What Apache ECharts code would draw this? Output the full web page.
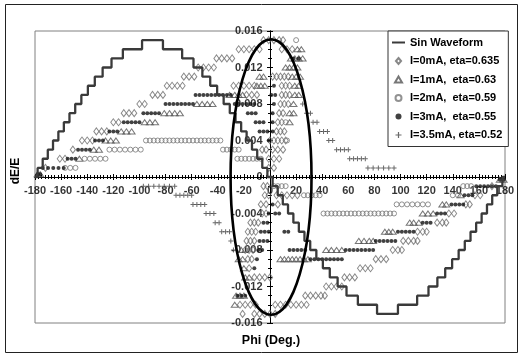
<!DOCTYPE html>
<html>
<head>
<meta charset="utf-8">
<script src="https://cdn.jsdelivr.net/npm/echarts/dist/echarts.min.js"></script>
<style>
  html, body { margin: 0; padding: 0; background: #fff; }
  #chart { width: 520px; height: 356px; }
</style>
</head>
<body>
<div id="chart"></div>
<script>
const FONT = '"Liberation Sans", Arial, sans-serif';

// tick labels drawn along the zero lines
const xTickLabels = [-180, -160, -140, -120, -100, -80, -60, -40, -20, 0, 20, 40, 60, 80, 100, 120, 140, 160, 180];
const yTickLabels = [0.016, 0.012, 0.008, 0.004, 0, -0.004, -0.008, -0.012, -0.016];

// staircase "sin" waveform: phase where each new level starts, level in units of 0.001
const sinPhi = [-180, -178, -174.1, -170.2, -166.2, -162.1, -157.9, -153.6, -149.2, -144.5, -139.5, -134.2, -128.2, -121.4, -112.7, -98,
  -82, -67.3, -58.6, -51.8, -45.8, -40.5, -35.5, -30.8, -26.4, -22.1, -17.9, -13.8, -9.8, -5.9, -2,
  2, 5.9, 9.8, 13.8, 17.9, 22.1, 26.4, 30.8, 35.5, 40.5, 45.8, 51.8, 58.6, 67.3, 82,
  98, 112.7, 121.4, 128.2, 134.2, 139.5, 144.5, 149.2, 153.6, 157.9, 162.1, 166.2, 170.2, 174.1, 178, 180];
const sinLevel = [0, 1, 2, 3, 4, 5, 6, 7, 8, 9, 10, 11, 12, 13, 14, 15,
  14, 13, 12, 11, 10, 9, 8, 7, 6, 5, 4, 3, 2, 1, 0,
  -1, -2, -3, -4, -5, -6, -7, -8, -9, -10, -11, -12, -13, -14, -15,
  -14, -13, -12, -11, -10, -9, -8, -7, -6, -5, -4, -3, -2, -1, 0, 0];

// the hand drawn ellipse: centre phi, centre dE/E, half width (deg), half height
const ellipse = [0.8, 0, 31, 0.0151];

// each row: [dE/E, phi, phi, ...]
const diamondRows = [
  [0.001, -172], [0.002, -161, -157], [0.003, -151], [0.004, -144, -140, -136], [0.005, -133, -129, -125],
  [0.006, -120, -116], [0.007, -112, -108, -104], [0.008, -100, -96], [0.009, -90, -86, -82],
  [0.010, -79, -75, -71, -67], [0.011, -66, -62, -58], [0.012, -55, -51, -47, -43], [0.013, -41, -37, -33, -29],
  [0.014, -24, -20, -16, -12, -8, 9, 13, 17], [0.015, -5, -1, 3, 7, 10],
  [0.011, 2, 5, 8, 11, 14], [0.010, -28, -24, -20, -16, -12, 9, 12, 15], [0.009, -18, -14, -10, 9, 12, 15],
  [0.008, 8, 11, 14], [0.007, 7, 10], [0.006, 6, 9], [0.005, 5, 8, 11], [0.004, 0, 3, 6, 9, 12],
  [0.003, -6, -3, 2, 6, 10], [0.002, -1, 3, 7], [0.001, -1, 3],
  [-0.001, 170, -5, -2], [-0.002, 157, 161, -4, -1, 5, 9, 13, 17, 21], [-0.003, 150, 153, -7, -3, 6],
  [-0.004, 137, 141, -6, -3], [-0.005, 128, 132, 135, -15, -12, -9], [-0.006, 113, 117, 120, -17, -14, -11],
  [-0.007, 102, 106, 110, 113, -18, -15, -12], [-0.008, 94, 98, 101, -19, -16, -13], [-0.009, 81, 85, 89, -17, -14],
  [-0.010, 69, 73, 77, -16], [-0.011, 57, 61, 65, -12, -8, -4, 0], [-0.012, 43, 47, 51, 55],
  [-0.013, 27, 31, 35, 39, 42], [-0.014, 4, 8, 12, 16, 20, 24, 28, -23, -19, -15, -11], [-0.015, -8, -4, 0, 4, -21, -12]
];
const triangleRows = [
  [0.0003, -178, -176], [0.002, -146], [0.003, -135, -131], [0.004, -126, -122, -118], [0.005, -114, -110, -106],
  [0.006, -96, -92, -88, 15], [0.007, -81, -77, -73, -69, 15, 18], [0.008, -56, -52, -48, -44, 18],
  [0.009, -31, -27, -24, -21, 19, 22], [0.010, -10, -7, -4, 19, 22], [0.011, -8, -5, 17, 20, 23],
  [0.012, 12, 15, 18, 21], [0.013, 16, 19, 22, 25], [0.014, 21, 24],
  [-0.0003, 176, 179], [-0.002, 146], [-0.003, 132, 135], [-0.004, 117, 121, 125], [-0.005, 107, 110, 114],
  [-0.006, 88, 91, 94], [-0.007, 68, 72, 76, 79], [-0.008, 43, 47, 51, 55, -22],
  [-0.009, 8, 11, 14, 17, 20, 23, 26, 29, -24, -21], [-0.010, -20], [-0.011, -19, -16],
  [-0.013, -26, -23, -20], [-0.014, -27]
];
const circleRows = [
  [0.001, -157, -153, -149], [0.002, -142, -138, -134, -130, -126], [0.003, -123, -119, -115, -111, -107, -103, -99],
  [0.004, -95, -92, -89, -86, -83, -80, -77, -74, -71, -68, -65, -62, -59, -56, -53, -50, -47, -44, -41, -38, 13],
  [0.003, -36, -33, -30, -27, -24], [0.002, -25, -22, -19, -16, -13, -10, -7], [0.006, 12], [0.015, 20],
  [-0.001, 3, 6, 9, 12, 148, 151, 154], [-0.002, 26, 29, 32, 35, 38, 140, 144],
  [-0.004, 41, 44, 47, 50, 53, 56, 59, 62, 65, 68, 71, 74, 77, 80, 83, 86, 89, 92, 95],
  [-0.003, 97, 101, 105, 109, 113, 117, 121]
];
const dotRows = [
  [0.0003, -178, -176], [0.001, -174, -170, -166, -162, -158], [0.002, -155, -152, -149], [0.003, -147, -144, -141, -138],
  [0.004, -134, -131, -128, -1], [0.005, -123, -120, -117, -8, -5, -2, 2], [0.006, -112, -109, -106, -103, -100, -11, -8, -5, 2],
  [0.007, -97, -94, -91, -88, -85, -17, -14, -11, 2], [0.008, -80, -77, -74, -71, -68, -65, -62, -59, -27, -24, -21, -18, -15, -12, 3],
  [0.009, -57, -54, -51, -48, -45, -42, -39, -36, -33, -30, 1, 4], [0.010, 3], [0.013, 18, 22],
  [-0.0003, 176, 179], [-0.001, 158, 161, 164, 167, 170, 173], [-0.002, 149, 152, 155], [-0.003, 139, 142, 145, 148, 2],
  [-0.004, 128, 131, 134, 4, 7, -1], [-0.005, 117, 120, 123, -5, -2], [-0.006, 98, 101, 104, 107, 110, 11, 14, -7, -4, -1],
  [-0.007, 81, 84, 87, 90, 93, 96, -8, -5, -2], [-0.008, 58, 61, 64, 67, 70, 73, 76, 79, 15, 18, 21, 24, 27, -9, -6],
  [-0.009, 31, 34, 37, 40, 43, 46, 49, 52, 55, -10], [-0.010, -12], [-0.013, -25, -22, -19]
];
const plusRows = [
  [0.008, 25], [0.007, 28, 31], [0.006, 33, 36], [0.005, 38, 41, 44], [0.004, 45, 48], [0.003, 51, 54, 57, 60],
  [0.002, 61, 64, 67, 70, 73], [0.001, 75, 79, 83, 87, 91, 95],
  [-0.001, -97, -93, -89, -85, -81, -77, -73], [-0.002, -72, -69, -66, -63, -60], [-0.003, -59, -56, -53, -50],
  [-0.004, -49, -46, -43], [-0.005, -42, -39], [-0.006, -37, -34, -31], [-0.007, -30], [-0.008, -28]
];

const seriesNames = ['Sin Waveform', 'I=0mA, eta=0.635', 'I=1mA,  eta=0.63', 'I=2mA,  eta=0.59', 'I=3mA,  eta=0.55', 'I=3.5mA, eta=0.52'];

function toPoints(rows) {
  const pts = [];
  rows.forEach(r => {
    for (let i = 1; i < r.length; i++) pts.push([r[i], r[0]]);
  });
  return pts;
}

const chart = echarts.init(document.getElementById('chart'), null, { renderer: 'canvas' });

const labelFont = { fontFamily: FONT, fontSize: 11, fontWeight: 'bold', color: '#000' };
const lineBlack = { color: '#000', width: 1 };
const clear = 'rgba(255,255,255,0)';

function xAx(pos) {
  return {
    type: 'value', min: -180, max: 180, interval: 20, position: pos,
    axisLine: { onZero: true, lineStyle: lineBlack },
    axisTick: { show: true, length: 3, lineStyle: lineBlack },
    minorTick: { show: true, splitNumber: 8, length: 2, lineStyle: lineBlack },
    splitLine: { show: false }, minorSplitLine: { show: false },
    axisLabel: { show: false }
  };
}
function yAx(pos) {
  return {
    type: 'value', min: -0.016, max: 0.016, interval: 0.004, position: pos,
    axisLine: { onZero: true, lineStyle: lineBlack },
    axisTick: { show: true, length: 3, lineStyle: lineBlack },
    minorTick: { show: true, splitNumber: 4, length: 2, lineStyle: lineBlack },
    splitLine: { show: false }, minorSplitLine: { show: false },
    axisLabel: { show: false }
  };
}

chart.setOption({
  animation: false,
  backgroundColor: '#fff',
  grid: { left: 35, top: 31, width: 470, height: 292, show: true, borderColor: '#808080', borderWidth: 1,
    backgroundColor: 'rgba(0,0,0,0)', containLabel: false, outerBoundsMode: 'none' },
  xAxis: [xAx('bottom'), xAx('top')],
  yAxis: [yAx('left'), yAx('right')],
  legend: {
    data: [{ name: seriesNames[0], itemStyle: { opacity: 0 } }].concat(seriesNames.slice(1)),
    orient: 'vertical', left: 388, top: 31,
    backgroundColor: '#fff', borderColor: '#333', borderWidth: 1, borderRadius: 0,
    padding: [6, 6, 6, 3], itemWidth: 13, itemHeight: 6, itemGap: 7.5,
    textStyle: { fontFamily: FONT, fontSize: 11, fontWeight: 'bold', color: '#000' },
    selectedMode: false
  },
  graphic: [
    { type: 'rect', shape: { x: 5.5, y: 4.5, width: 512, height: 348 }, style: { fill: 'none', stroke: '#222', lineWidth: 1 }, silent: true },
    { type: 'text', x: 271, y: 341, style: { text: 'Phi (Deg.)', textAlign: 'center', textVerticalAlign: 'middle', align: 'center', verticalAlign: 'middle',
      font: 'bold 12.5px ' + FONT, fill: '#000' } },
    { type: 'text', x: 16, y: 171, rotation: Math.PI / 2, style: { text: 'dE/E', textAlign: 'center', textVerticalAlign: 'middle', align: 'center', verticalAlign: 'middle',
      font: 'bold 12px ' + FONT, fill: '#000' } }
  ],
  series: [
    // tick labels sit on the zero lines, like the original
    { type: 'scatter', z: 1, silent: true, symbolSize: 1, itemStyle: { color: clear },
      data: xTickLabels.map(v => [v, 0]),
      label: Object.assign({ show: true, position: 'bottom', distance: 8, formatter: p => String(p.value[0]) }, labelFont) },
    { type: 'scatter', z: 1, silent: true, symbolSize: 1, itemStyle: { color: clear },
      data: yTickLabels.map(v => [0, v]),
      label: Object.assign({ show: true, position: 'left', distance: 7, formatter: p => (p.value[1] === 0 ? '0' : p.value[1].toFixed(3)) }, labelFont) },

    { name: seriesNames[1], type: 'scatter', symbol: 'path://M3,0L6,3.5L3,7L0,3.5Z', symbolSize: [6, 7], symbolKeepAspect: true, silent: true,
      itemStyle: { color: clear, borderColor: '#6a6a6a', borderWidth: 1 }, data: toPoints(diamondRows) },
    { name: seriesNames[2], type: 'scatter', symbol: 'path://M3.5,0L7,6L0,6Z', symbolSize: [7, 6], symbolKeepAspect: true, silent: true,
      itemStyle: { color: clear, borderColor: '#555', borderWidth: 1 }, data: toPoints(triangleRows) },
    { name: seriesNames[3], type: 'scatter', symbol: 'circle', symbolSize: 5, silent: true,
      itemStyle: { color: clear, borderColor: '#777', borderWidth: 1 }, data: toPoints(circleRows) },
    { name: seriesNames[4], type: 'scatter', symbol: 'circle', symbolSize: 4, silent: true,
      itemStyle: { color: '#111' }, data: toPoints(dotRows) },
    { name: seriesNames[5], type: 'scatter', symbol: 'path://M0,4h10v2h-10z M4,0h2v10h-2z', symbolSize: 5, symbolKeepAspect: true, silent: true,
      itemStyle: { color: '#444' }, data: toPoints(plusRows) },
    { name: seriesNames[0], type: 'line', step: 'end', symbol: 'none', silent: true, z: 5,
      lineStyle: { color: '#3a3a3a', width: 2.3 }, itemStyle: { color: '#222' },
      data: sinPhi.map((p, i) => [p, sinLevel[i] * 0.001]) },
    { name: 'ellipse', type: 'custom', silent: true, z: 6, encode: { x: 0, y: 1 },
      renderItem: (params, api) => {
        const c = api.coord([api.value(0), api.value(1)]);
        const s = api.size([api.value(2), api.value(3)]);
        return { type: 'ellipse', shape: { cx: c[0], cy: c[1], rx: Math.abs(s[0]), ry: Math.abs(s[1]) },
          style: { fill: 'none', stroke: '#000', lineWidth: 2.6 } };
      },
      data: [ellipse] }
  ]
});
</script>
</body>
</html>
